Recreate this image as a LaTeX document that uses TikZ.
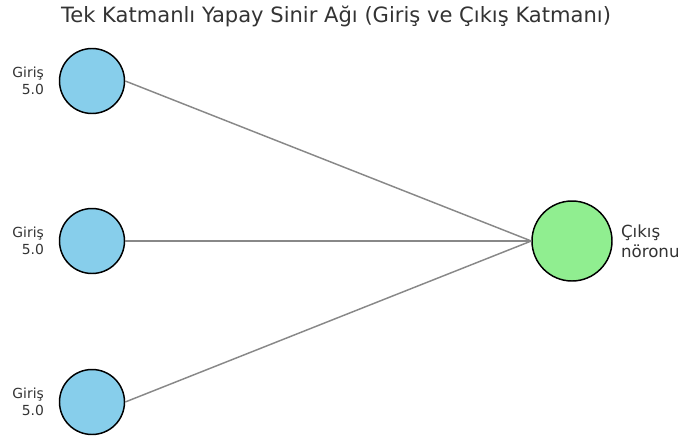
\documentclass[tikz,border=0pt]{standalone}
\usepackage{fontspec}
\setmainfont{DejaVu Sans}
\usetikzlibrary{positioning}
\definecolor{skyblue}{HTML}{87CEEB}
\definecolor{lightgreen}{HTML}{90EE90}
\definecolor{txtgray}{HTML}{333333}
\definecolor{linkgray}{HTML}{888888}

\begin{document}
\begin{tikzpicture}[x=0.75pt, y=-0.75pt,
  neuron/.style={circle, draw=black, line width=1.1pt, inner sep=0pt},
  inp/.style={neuron, fill=skyblue, minimum size=48.75pt},
  outp/.style={neuron, fill=lightgreen, minimum size=60pt},
  lbl/.style={font=\fontsize{10.4}{12.5}\selectfont, text=txtgray, inner sep=0pt},
  link/.style={draw=linkgray, line width=1.1pt}]
\useasboundingbox (0,0) rectangle (678,443);

\node (title) [font=\fontsize{15.8}{19}\selectfont, text=txtgray] at (336,16) {Tek Katmanlı Yapay Sinir Ağı (Giriş ve Çıkış Katmanı)};

\node (in1) [inp] at (92,81) {};
\node (in2) [inp] at (92,241) {};
\node (in3) [inp] at (92,402) {};
\node (out) [outp] at (572,241) {};

\node (lin1) [lbl, align=right, left=11pt of in1] {Giriş\\5.0};
\node (lin2) [lbl, align=right, left=11pt of in2] {Giriş\\5.0};
\node (lin3) [lbl, align=right, left=11pt of in3] {Giriş\\5.0};
\node (lout) [lbl, font=\fontsize{12.5}{15}\selectfont, align=left, right=6pt of out] {Çıkış\\nöronu};

\draw[link] (in1.east) -- (out.west);
\draw[link] (in2.east) -- (out.west);
\draw[link] (in3.east) -- (out.west);
\end{tikzpicture}
\end{document}
